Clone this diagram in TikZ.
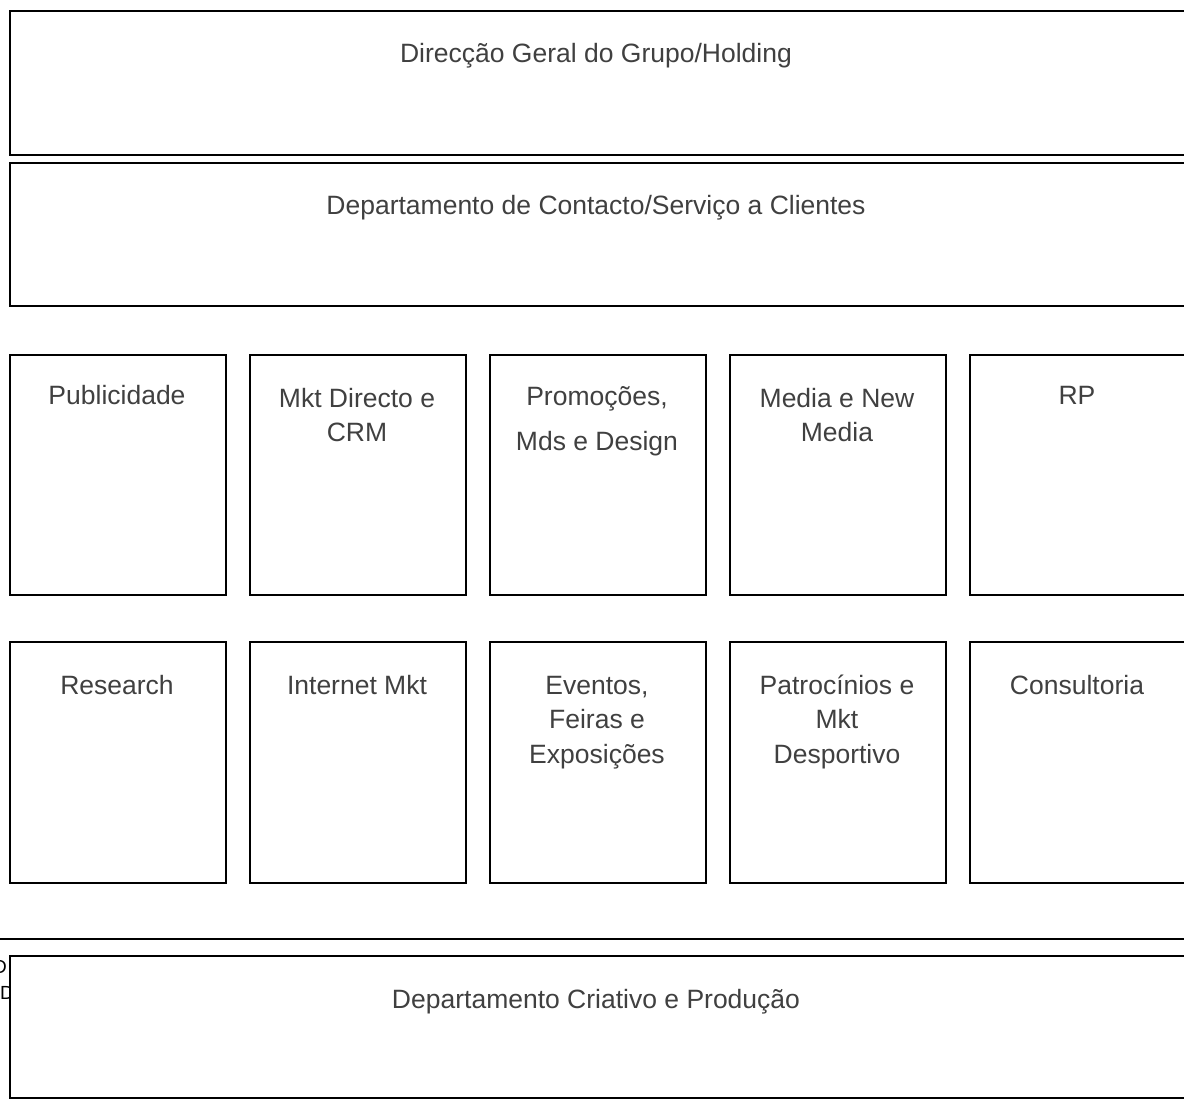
\documentclass[tikz,border=0pt]{standalone}
\usepackage{fontspec}
\setmainfont{Liberation Sans}
\definecolor{labelgray}{RGB}{64,64,64}
\tikzset{
  unitbox/.style={draw=black, line width=2pt, fill=white, rectangle,
    inner sep=0pt, anchor=north west},
  unitlabel/.style={text=labelgray, align=center, inner sep=0pt, anchor=base,
    font=\fontsize{26.5}{34.5}\selectfont},
  edgeletter/.style={text=black, inner sep=0pt, anchor=base west,
    font=\fontsize{19}{27}\selectfont}
}
\begin{document}
\begin{tikzpicture}[x=1pt,y=-1pt]
  \useasboundingbox (0,0) rectangle (1184,1099);
  \clip (0,0) rectangle (1184,1099);

  % head office and client service bands
  \node[unitbox, minimum width=1177pt, minimum height=144pt] (holding) at (9,10) {};
  \node[unitlabel] (holdingtxt) at (596,63) {Direcção Geral do Grupo/Holding};
  \node[unitbox, minimum width=1177pt, minimum height=143pt] (contacto) at (9,162) {};
  \node[unitlabel] (contactotxt) at (596,215) {Departamento de Contacto/Serviço a Clientes};

  % first row of units (label positions give the baseline of the last line)
  \foreach \n/\x in {pub/9, mkt/249, promo/489, media/729, rp/969}
    \node[unitbox, minimum width=216pt, minimum height=240pt] (\n) at (\x,354) {};
  \node[unitlabel] (pubtxt)   at (117,405) {Publicidade};
  \node[unitlabel] (mkttxt)   at (357,441.5) {Mkt Directo e\\CRM};
  \node[unitlabel] (promotxt) at (597,450.5) {Promoções,\\[11pt]Mds e Design};
  \node[unitlabel] (mediatxt) at (837,441.5) {Media e New\\Media};
  \node[unitlabel] (rptxt)    at (1077,405) {RP};

  % second row of units
  \foreach \n/\x in {res/9, inet/249, event/489, patro/729, cons/969}
    \node[unitbox, minimum width=216pt, minimum height=241pt] (\n) at (\x,641) {};
  \node[unitlabel] (restxt)   at (117,694) {Research};
  \node[unitlabel] (inettxt)  at (357,694) {Internet Mkt};
  \node[unitlabel] (eventtxt) at (597,763) {Eventos,\\Feiras e\\Exposições};
  \node[unitlabel] (patrotxt) at (837,763) {Patrocínios e\\Mkt\\Desportivo};
  \node[unitlabel] (constxt)  at (1077,694) {Consultoria};

  % band lying underneath the creative department
  \node[draw=black, line width=2pt, rectangle, inner sep=0pt, anchor=north west,
    minimum width=1240pt, minimum height=220pt] (under) at (-30,938) {};
  \node[edgeletter] (da) at (-7,973) {D};
  \node[edgeletter] (db) at (0,999) {D};

  % creative and production band
  \node[unitbox, minimum width=1177pt, minimum height=142pt] (criativo) at (9,955) {};
  \node[unitlabel] (criativotxt) at (596,1008) {Departamento Criativo e Produção};
\end{tikzpicture}
\end{document}
